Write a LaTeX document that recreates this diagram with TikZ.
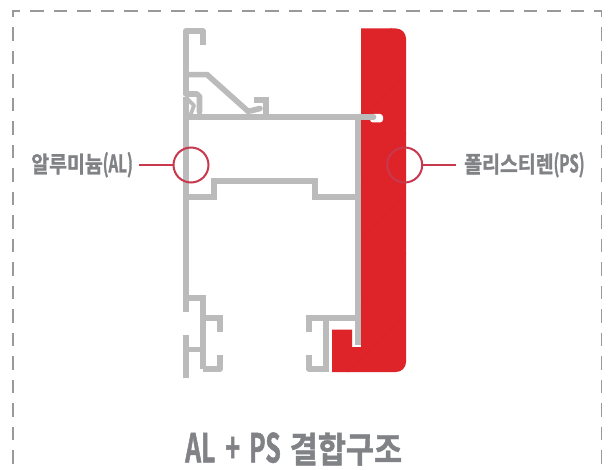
\documentclass[tikz,border=0pt]{standalone}
\usepackage{fontspec}
\newfontfamily\krfont[FakeStretch=0.86,FakeBold=1.2]{Noto Sans CJK KR Bold}
\newfontfamily\lnfont[FakeStretch=0.62,FakeBold=1.2]{Noto Sans CJK KR Bold}
\newcommand{\lblkr}{\krfont\fontsize{22.6}{22.6}\selectfont}
\newcommand{\lblln}{\lnfont\fontsize{24.5}{24.5}\selectfont}
\newcommand{\ttlkr}{\krfont\fontsize{35.5}{35.5}\selectfont}
\newcommand{\ttlln}{\lnfont\fontsize{40}{40}\selectfont}
\definecolor{alu}{HTML}{BBBBBB}
\definecolor{psred}{HTML}{DE2329}
\definecolor{psline}{HTML}{D8252C}
\definecolor{ring}{HTML}{C9394D}
\definecolor{txt}{HTML}{808285}
\definecolor{frame}{HTML}{999999}
\tikzset{
  profile/.style={draw=alu,line width=5.6pt,line join=miter,line cap=butt},
  profileround/.style={profile,line cap=round,line join=round},
  marker/.style={circle,draw=ring,line width=2pt,minimum size=35pt,inner sep=0pt},
  leader/.style={draw=ring,line width=2pt},
  label/.style={text=txt,inner sep=0pt},
  border/.style={draw=frame,line width=1.5pt,dash pattern=on 13.5pt off 10pt,dash phase=6.5pt}
}
\begin{document}
\begin{tikzpicture}[x=1pt,y=-1pt]
\useasboundingbox (0,0) rectangle (613,470);
\fill[white] (0,0) rectangle (613,470);
% dashed border
\draw[border] (13,11) -- (601.5,11);
\draw[border] (13,10.3) -- (13,480);
\draw[border] (601.5,10.3) -- (601.5,480);
% polystyrene
\begin{scope}
\path[clip] (361,28.5) -- (396,28.5) arc[start angle=-90,end angle=0,radius=10] -- (406,362) arc[start angle=0,end angle=90,radius=10] -- (332,372) -- (332,329.5) -- (352,329.5) -- (352,347) -- (361,347) -- cycle;
\fill[psred] (320,20) rectangle (410,380);
\foreach \o in {0,60,...,420}
  \draw[psline,line width=.8pt] (330,\o+30) -- (410,\o-50);
\end{scope}
\fill[white,rounded corners=3pt] (370,114) -- (383,114) -- (383,122.5) -- (370,122.5) -- cycle;
% aluminium
\draw[profile,line join=round] (185.8,95) -- (185.8,31) -- (203,31) -- (203,45);
\draw[profile] (185.8,74.6) -- (207,74.6) -- (250,113);
\draw[profileround] (250,111) -- (260,108.5);
\draw[profile] (254,100) -- (266,100) -- (266,117);
\draw[profileround] (185.8,94) -- (197,94) -- (199.5,96.5) -- (199.5,112);
\draw[alu,line width=3.8pt,line join=round] (186,97.5) -- (194,105.5) -- (190.5,115);
\draw[profile] (185.8,97) -- (185.8,312);
\draw[profile] (185.8,335) -- (185.8,378);
\draw[profile] (186,117) -- (370,117);
\draw[profileround] (360,117) -- (373.5,117);
\draw[profile] (358,117) -- (358,345);
\draw[profile] (188,197) -- (214,197) -- (214,180.8) -- (315,180.8) -- (315,197) -- (358,197);
\draw[profile] (185.8,298) -- (203,298) -- (203,369);
\draw[profile] (203,318) -- (220,318) -- (220,332);
\draw[profile] (186,349.5) -- (203,349.5);
\draw[profile,line join=round] (203,369) -- (220,369) -- (220,355);
\draw[profile] (358,318) -- (308.8,318) -- (308.8,332);
\draw[profile] (326.2,318) -- (326.2,372);
\draw[profile,line join=round] (326.2,369) -- (308.8,369) -- (308.8,355);
% labels and markers
\node[label,anchor=base east] (allabel) at (133,172.5) {\lblkr 알루미늄\lblln (AL)};
\node[label,anchor=base west] (pslabel) at (464,172.5) {\lblkr 폴리스티렌\lblln (PS)};
\node[marker] (alring) at (191,165) {};
\node[marker] (psring) at (404.7,165) {};
\coordinate (alend) at (139,165);
\coordinate (psend) at (456,165);
\draw[leader] (alend) -- (alring);
\draw[leader] (psring) -- (psend);
\node[label,anchor=base west] (title) at (185,462.5) {\ttlln AL\hspace{10pt}+\hspace{9pt}PS\hspace{9pt}\ttlkr 결합구조};
\end{tikzpicture}
\end{document}
